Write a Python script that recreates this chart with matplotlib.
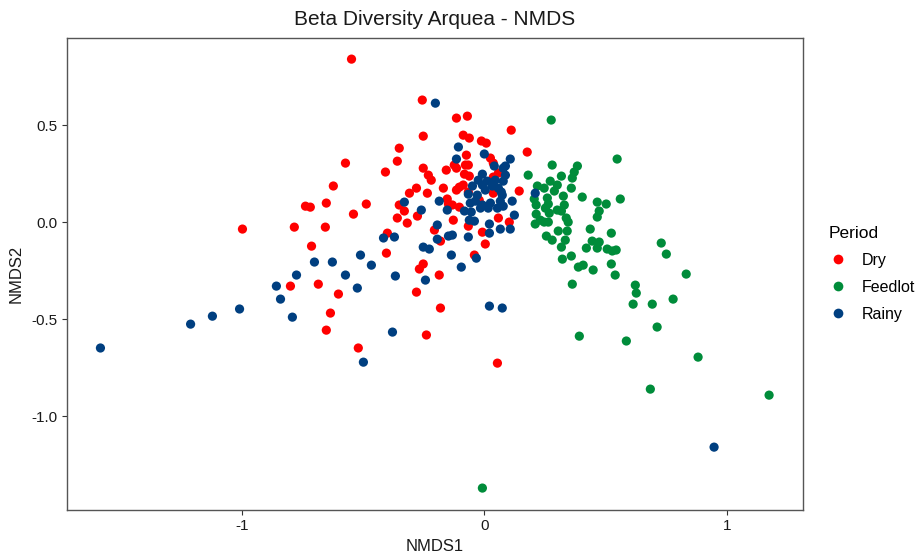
import matplotlib
matplotlib.use("Agg")
import matplotlib.pyplot as plt
from matplotlib.lines import Line2D

plt.rcParams['font.family'] = ['Liberation Sans', 'DejaVu Sans']

# NMDS scores per sampling period
dry_x = [-0.998, -0.548, -0.351, -0.359, -0.573, -0.408, -0.623, -0.738, -0.718, -0.652,
         -0.487, -0.351, -0.540, -0.359, -0.784, -0.656, -0.400, -0.713, -0.404, -0.800,
         -0.685, -0.602, -0.635, -0.652, -0.520, -0.256, -0.115, -0.070, -0.252, -0.087,
         -0.062, -0.012, 0.008, -0.074, -0.252, -0.124, -0.115, -0.078, -0.066, 0.025,
         0.037, -0.231, -0.219, -0.157, -0.082, -0.062, 0.058, 0.037, -0.280, -0.309,
         -0.235, -0.169, -0.115, -0.103, -0.087, -0.066, 0.037, -0.021, -0.153, -0.148,
         -0.132, -0.103, -0.330, -0.318, -0.276, -0.128, 0.058, -0.066, -0.206, -0.008,
         -0.181, 0.004, -0.041, -0.252, -0.268, -0.186, -0.280, -0.181, -0.239, 0.054,
         0.111, 0.177, 0.144, 0.103]
dry_y = [-0.036, 0.840, 0.381, 0.314, 0.304, 0.258, 0.186, 0.082, 0.077, 0.098,
         0.093, 0.088, 0.041, 0.021, -0.026, -0.026, -0.057, -0.124, -0.160, -0.330,
         -0.320, -0.371, -0.469, -0.557, -0.649, 0.629, 0.536, 0.546, 0.443, 0.448,
         0.433, 0.418, 0.407, 0.345, 0.278, 0.294, 0.278, 0.294, 0.294, 0.330,
         0.304, 0.242, 0.216, 0.268, 0.247, 0.237, 0.253, 0.232, 0.175, 0.149,
         0.149, 0.175, 0.165, 0.180, 0.191, 0.155, 0.149, 0.113, 0.119, 0.093,
         0.088, 0.077, 0.057, -0.005, 0.031, 0.010, 0.021, -0.021, -0.041, -0.052,
         -0.098, -0.113, -0.170, -0.216, -0.242, -0.273, -0.361, -0.443, -0.582, -0.727,
         0.474, 0.361, 0.160, 0.000]

feedlot_x = [-0.008, 0.363, 0.392, 0.449, 0.276, 0.181, 0.280, 0.384, 0.371, 0.318,
             0.363, 0.219, 0.247, 0.272, 0.301, 0.289, 0.359, 0.206, 0.260, 0.326,
             0.404, 0.214, 0.264, 0.330, 0.466, 0.252, 0.301, 0.318, 0.214, 0.268,
             0.474, 0.231, 0.247, 0.338, 0.466, 0.210, 0.264, 0.346, 0.305, 0.342,
             0.437, 0.256, 0.280, 0.334, 0.318, 0.421, 0.445, 0.474, 0.466, 0.322,
             0.359, 0.388, 0.408, 0.548, 0.561, 0.503, 0.524, 0.507, 0.528, 0.544,
             0.730, 0.751, 0.524, 0.540, 0.833, 0.623, 0.627, 0.614, 0.693, 0.779,
             0.713, 0.586, 0.882, 0.685, 1.175]
feedlot_y = [-1.371, -0.320, -0.588, -0.247, 0.526, 0.242, 0.294, 0.289, 0.258, 0.237,
             0.227, 0.186, 0.175, 0.211, 0.191, 0.160, 0.175, 0.119, 0.124, 0.134,
             0.129, 0.088, 0.093, 0.088, 0.103, 0.072, 0.062, 0.057, 0.041, 0.046,
             0.057, 0.010, 0.000, 0.021, 0.026, -0.010, 0.000, 0.000, -0.046, -0.046,
             -0.036, -0.072, -0.093, -0.093, -0.129, -0.134, -0.098, -0.103, -0.134, -0.191,
             -0.175, -0.232, -0.222, 0.325, 0.119, 0.093, -0.057, -0.139, -0.149, -0.144,
             -0.108, -0.165, -0.216, -0.273, -0.268, -0.325, -0.366, -0.423, -0.423, -0.397,
             -0.541, -0.613, -0.696, -0.861, -0.892]

rainy_x = [-1.584, -1.212, -1.122, -1.010, -0.416, -0.371, -0.511, -0.701, -0.627, -0.466,
           -0.775, -0.573, -0.367, -0.858, -0.524, -0.841, -0.792, -0.379, -0.499, -0.202,
           -0.107, 0.000, -0.115, 0.041, -0.008, 0.078, -0.330, -0.186, -0.260, -0.153,
           -0.082, -0.054, -0.062, -0.041, 0.066, 0.021, -0.194, 0.021, -0.148, -0.132,
           -0.194, -0.066, -0.252, -0.227, -0.136, -0.033, -0.095, -0.243, 0.021, 0.074,
           0.107, 0.087, 0.087, 0.070, 0.210, 0.115, 0.078, 0.124, 0.107, 0.948,
           -0.008, -0.049, -0.066, -0.029, 0.004, 0.033, 0.058, 0.074, 0.066, 0.025,
           -0.008, -0.037, -0.058, 0.016, 0.054, -0.016, 0.078, 0.045, 0.012, -0.025]
rainy_y = [-0.649, -0.526, -0.485, -0.448, -0.082, -0.077, -0.170, -0.206, -0.206, -0.222,
           -0.273, -0.273, -0.278, -0.330, -0.340, -0.397, -0.490, -0.567, -0.722, 0.613,
           0.387, 0.351, 0.325, 0.289, 0.247, 0.278, 0.103, 0.108, 0.062, 0.062,
           0.057, 0.052, 0.010, 0.005, -0.036, -0.010, -0.015, -0.057, -0.072, -0.067,
           -0.088, -0.077, -0.129, -0.139, -0.170, -0.186, -0.232, -0.299, -0.433, -0.443,
           0.325, 0.289, 0.242, 0.155, 0.149, 0.108, 0.082, 0.036, -0.036, -1.160,
           0.191, 0.186, 0.144, 0.139, 0.165, 0.186, 0.175, 0.139, 0.108, 0.098,
           0.088, 0.108, 0.098, 0.072, 0.072, 0.072, 0.211, 0.216, 0.211, 0.216]

periods = ["Dry", "Feedlot", "Rainy"]
colors = {"Dry": "#FF0000", "Feedlot": "#008C3A", "Rainy": "#003F80"}
series = {"Dry": (dry_x, dry_y), "Feedlot": (feedlot_x, feedlot_y), "Rainy": (rainy_x, rainy_y)}

fig = plt.figure(figsize=(9.19, 5.52), dpi=100)
ax = fig.add_axes([0.0729, 0.0761, 0.8009, 0.8551])

for p in periods:
    xs, ys = series[p]
    ax.scatter(xs, ys, s=44, color=colors[p], edgecolors='none', zorder=3)

ax.set_xlim(-1.722, 1.315)
ax.set_ylim(-1.484, 0.949)
ax.set_xticks([-1, 0, 1])
ax.set_xticklabels(["-1", "0", "1"])
ax.set_yticks([0.5, 0.0, -0.5, -1.0])
ax.set_yticklabels(["0.5", "0.0", "-0.5", "-1.0"])
ax.tick_params(direction='out', length=3.5, width=0.8, colors='#333333',
               labelsize=11, labelcolor='#1a1a1a', pad=3)
for sp in ax.spines.values():
    sp.set_color('#555555')
    sp.set_linewidth(1.0)

ax.set_xlabel("NMDS1", fontsize=12, color='#1a1a1a', labelpad=4)
ax.set_ylabel("NMDS2", fontsize=12, color='#1a1a1a', labelpad=6)
ax.set_title("Beta Diversity Arquea - NMDS", fontsize=15, color='#1a1a1a', pad=9)

handles = [Line2D([], [], marker='o', linestyle='none', markersize=7,
                  markerfacecolor=colors[p], markeredgecolor='none', label=p)
           for p in periods]
leg = fig.legend(handles=handles, title="Period", loc='upper left',
                 bbox_to_anchor=(0.893, 0.605), frameon=False, fontsize=11.5,
                 title_fontsize=12.5, handletextpad=0.9, labelspacing=0.75,
                 borderpad=0, handlelength=1.2)
leg._legend_box.align = "left"

fig.savefig("out.png", dpi=100)
